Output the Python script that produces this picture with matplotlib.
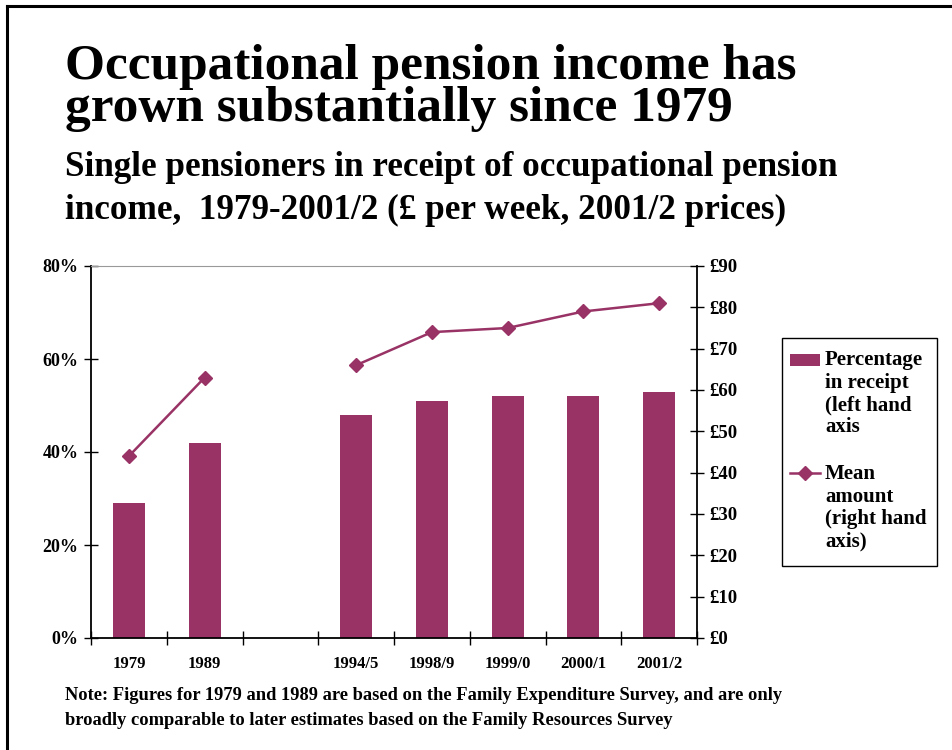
import numpy as np
import matplotlib
matplotlib.use("Agg")
import matplotlib.pyplot as plt
from matplotlib.lines import Line2D
from matplotlib.patches import Rectangle

plt.rcParams['font.family'] = ['Liberation Serif', 'DejaVu Serif']
plt.rcParams['font.weight'] = 'bold'

categories = ['1979', '1989', '', '1994/5', '1998/9', '1999/0', '2000/1', '2001/2']
pct_receipt = [29, 42, np.nan, 48, 51, 52, 52, 53]
mean_amount = [44, 63, np.nan, 66, 74, 75, 79, 81]
left_ticks = [0, 20, 40, 60, 80]
right_ticks = list(range(0, 100, 10))
legend_bar = ['Percentage', 'in receipt', '(left hand', 'axis']
legend_line = ['Mean', 'amount', '(right hand', 'axis)']

plum = '#993366'
W, H = 952, 750


def fx(px):
    return px / W


def fy(py):
    return 1 - py / H


fig = plt.figure(figsize=(9.52, 7.5), dpi=100)

# frame lines (left and top only)
fig.add_artist(Line2D([fx(7), fx(7)], [0, fy(6)], color='black', lw=2.2))
fig.add_artist(Line2D([fx(7), 1], [fy(6), fy(6)], color='black', lw=2.2))

fig.text(fx(65), fy(121), 'Occupational pension income has\ngrown substantially since 1979',
         fontsize=37, fontweight='bold', va='baseline', ha='left', linespacing=0.89)
fig.text(fx(65), fy(219),
         'Single pensioners in receipt of occupational pension\n'
         'income,  1979-2001/2 (£ per week, 2001/2 prices)',
         fontsize=25.3, fontweight='bold', va='baseline', ha='left', linespacing=1.4)

ax = fig.add_axes([fx(91), fy(638), (697 - 91) / W, (638 - 266) / H])
x = np.arange(len(categories))
ax.bar(x, pct_receipt, width=0.42, color=plum, zorder=2)
ax.set_xlim(-0.5, len(categories) - 0.5)
ax.set_ylim(0, 80)
ax.set_yticks(left_ticks)
ax.set_yticklabels([f'{v}%' for v in left_ticks])
ax.set_xticks(np.arange(len(categories) + 1) - 0.5)
ax.set_xticklabels([])
ax.set_xticks(x, minor=True)
ax.set_xticklabels(categories, minor=True)
ax.tick_params(axis='x', which='major', direction='inout', length=10, width=1)
ax.tick_params(axis='x', which='minor', length=0, pad=13, labelsize=12)
ax.tick_params(axis='y', direction='inout', length=10, width=1, labelsize=13, pad=4)
ax.spines['top'].set_color('#999999')
ax.spines['right'].set_visible(False)
for s in ['left', 'bottom']:
    ax.spines[s].set_linewidth(1.3)

ax2 = ax.twinx()
ax2.plot(x, mean_amount, color=plum, marker='D', markersize=7.5, lw=1.8, zorder=3)
ax2.set_ylim(0, 90)
ax2.set_yticks(right_ticks)
ax2.set_yticklabels([f'£{v}' for v in right_ticks])
ax2.tick_params(axis='y', direction='inout', length=10, width=1, labelsize=13.5, pad=4)
for s in ['top', 'left', 'bottom']:
    ax2.spines[s].set_visible(False)
ax2.spines['right'].set_linewidth(1.3)

# legend box, entries aligned to the first text line as in the original
fig.add_artist(Rectangle((fx(782), fy(566)), (937 - 782) / W, (566 - 338) / H,
                         transform=fig.transFigure, facecolor='white', edgecolor='black', lw=1))
fig.add_artist(Rectangle((fx(790), fy(366)), 30 / W, 12 / H,
                         transform=fig.transFigure, facecolor=plum, edgecolor='none'))
fig.add_artist(Line2D([fx(790), fx(820)], [fy(473), fy(473)], color=plum, lw=1.8))
fig.add_artist(Line2D([fx(805)], [fy(473)], color=plum, marker='D', markersize=7.5))
for i, line in enumerate(legend_bar):
    fig.text(fx(825), fy(365 + 22.5 * i), line, fontsize=15, fontweight='bold',
             va='baseline', ha='left')
for i, line in enumerate(legend_line):
    fig.text(fx(825), fy(479 + 22.5 * i), line, fontsize=15, fontweight='bold',
             va='baseline', ha='left')

fig.text(fx(65), fy(700),
         'Note: Figures for 1979 and 1989 are based on the Family Expenditure Survey, and are only',
         fontsize=13.3, fontweight='bold', va='baseline', ha='left')
fig.text(fx(65), fy(725),
         'broadly comparable to later estimates based on the Family Resources Survey',
         fontsize=13.3, fontweight='bold', va='baseline', ha='left')

fig.savefig('out.png', dpi=100)
